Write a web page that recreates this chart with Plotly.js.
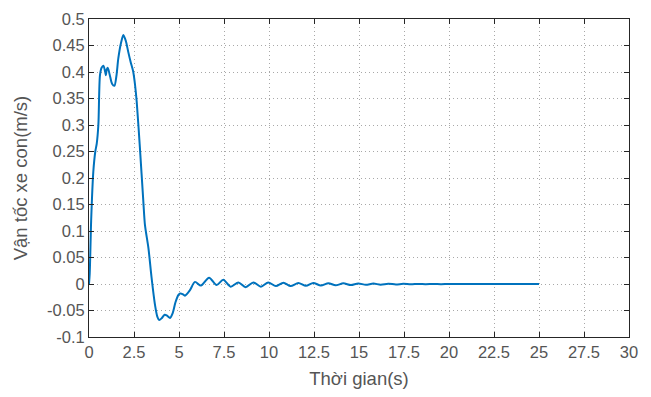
<!DOCTYPE html>
<html>
<head>
<meta charset="utf-8">
<script src="https://cdn.plot.ly/plotly-3.0.1.min.js"></script>
<style>html,body{margin:0;padding:0;background:#fff;}#chart{width:651px;height:397px;}</style>
</head>
<body>
<div id="chart"></div>
<script>
const timeS = [0, 0.04, 0.12, 0.24, 0.35, 0.43, 0.52, 0.61, 0.70, 0.80, 0.90, 0.94, 0.98, 1.04, 1.15, 1.28, 1.41, 1.52, 1.63, 1.78, 1.91, 2.05, 2.18, 2.32, 2.46, 2.56, 2.65, 2.83, 3.02, 3.11, 3.30, 3.48, 3.67, 3.80, 3.90, 4.05, 4.20, 4.35, 4.50, 4.65, 4.80, 4.96, 5.06, 5.20, 5.33, 5.60, 5.89, 6.22, 6.67, 7.09, 7.46, 7.87, 8.30, 8.70, 9.13, 9.55, 9.96, 10.38, 10.80, 11.20, 11.63, 12.05, 12.46, 12.88, 13.30, 13.70, 14.13, 14.55, 14.96, 15.38, 15.80, 16.20, 16.63, 17.05, 17.46, 17.88, 18.30, 18.70, 19.13, 19.55, 20.0, 21.0, 22.0, 23.0, 24.0, 25.0];
const velocity = [0, 0.02, 0.12, 0.212, 0.25, 0.265, 0.30, 0.394, 0.408, 0.412, 0.400, 0.394, 0.404, 0.408, 0.395, 0.378, 0.374, 0.392, 0.426, 0.455, 0.470, 0.458, 0.438, 0.418, 0.40, 0.375, 0.344, 0.256, 0.155, 0.111, 0.068, 0.011, -0.040, -0.062, -0.068, -0.064, -0.058, -0.060, -0.064, -0.055, -0.035, -0.021, -0.018, -0.019, -0.022, -0.012, 0.004, -0.003, 0.012, -0.002, 0.008, -0.005, 0.003, -0.006, 0.003, -0.005, 0.003, -0.004, 0.0025, -0.004, 0.002, -0.0035, 0.002, -0.003, 0.0015, -0.0025, 0.0012, -0.002, 0.001, -0.0015, 0.0008, -0.0012, 0.0005, -0.0009, 0.0003, -0.0006, 0.0002, -0.0004, 0.0001, -0.0003, 0, -0.0002, 0, -0.0001, 0, 0];
const xTicks = [0, 2.5, 5, 7.5, 10, 12.5, 15, 17.5, 20, 22.5, 25, 27.5, 30];
const xTickText = ['0', '2.5', '5', '7.5', '10', '12.5', '15', '17.5', '20', '22.5', '25', '27.5', '30'];
const yTicks = [-0.1, -0.05, 0, 0.05, 0.1, 0.15, 0.2, 0.25, 0.3, 0.35, 0.4, 0.45, 0.5];
const yTickText = ['-0.1', '-0.05', '0', '0.05', '0.1', '0.15', '0.2', '0.25', '0.3', '0.35', '0.4', '0.45', '0.5'];

const fontFamily = 'Liberation Sans, Arial, sans-serif';
const axisCommon = {
  showline: true, linecolor: '#262626', linewidth: 1, mirror: 'ticks',
  ticks: 'inside', ticklen: 5, tickcolor: '#262626', tickwidth: 1,
  showgrid: true, gridcolor: '#a8a8a8', griddash: '1px,3px', gridwidth: 1,
  zeroline: false, tickmode: 'array',
  tickfont: {family: fontFamily, size: 16.5, color: '#555555'}
};

Plotly.newPlot('chart', [{
  x: timeS, y: velocity, type: 'scatter', mode: 'lines',
  line: {color: '#0072BD', width: 2, shape: 'spline', smoothing: 0.8},
  hoverinfo: 'skip'
}], {
  width: 651, height: 397,
  margin: {l: 89, r: 22, t: 19, b: 60},
  paper_bgcolor: '#ffffff', plot_bgcolor: '#ffffff',
  showlegend: false,
  xaxis: Object.assign({}, axisCommon, {
    range: [0, 30], tickvals: xTicks, ticktext: xTickText,
    title: {text: 'Thời gian(s)', font: {family: fontFamily, size: 18.5, color: '#555555'}, standoff: 12}
  }),
  yaxis: Object.assign({}, axisCommon, {
    range: [-0.1, 0.5], tickvals: yTicks, ticktext: yTickText,
    title: {text: 'Vận tốc xe con(m/s)', font: {family: fontFamily, size: 18.5, color: '#555555'}, standoff: 14}
  })
}, {displayModeBar: false, staticPlot: true});
</script>
</body>
</html>
